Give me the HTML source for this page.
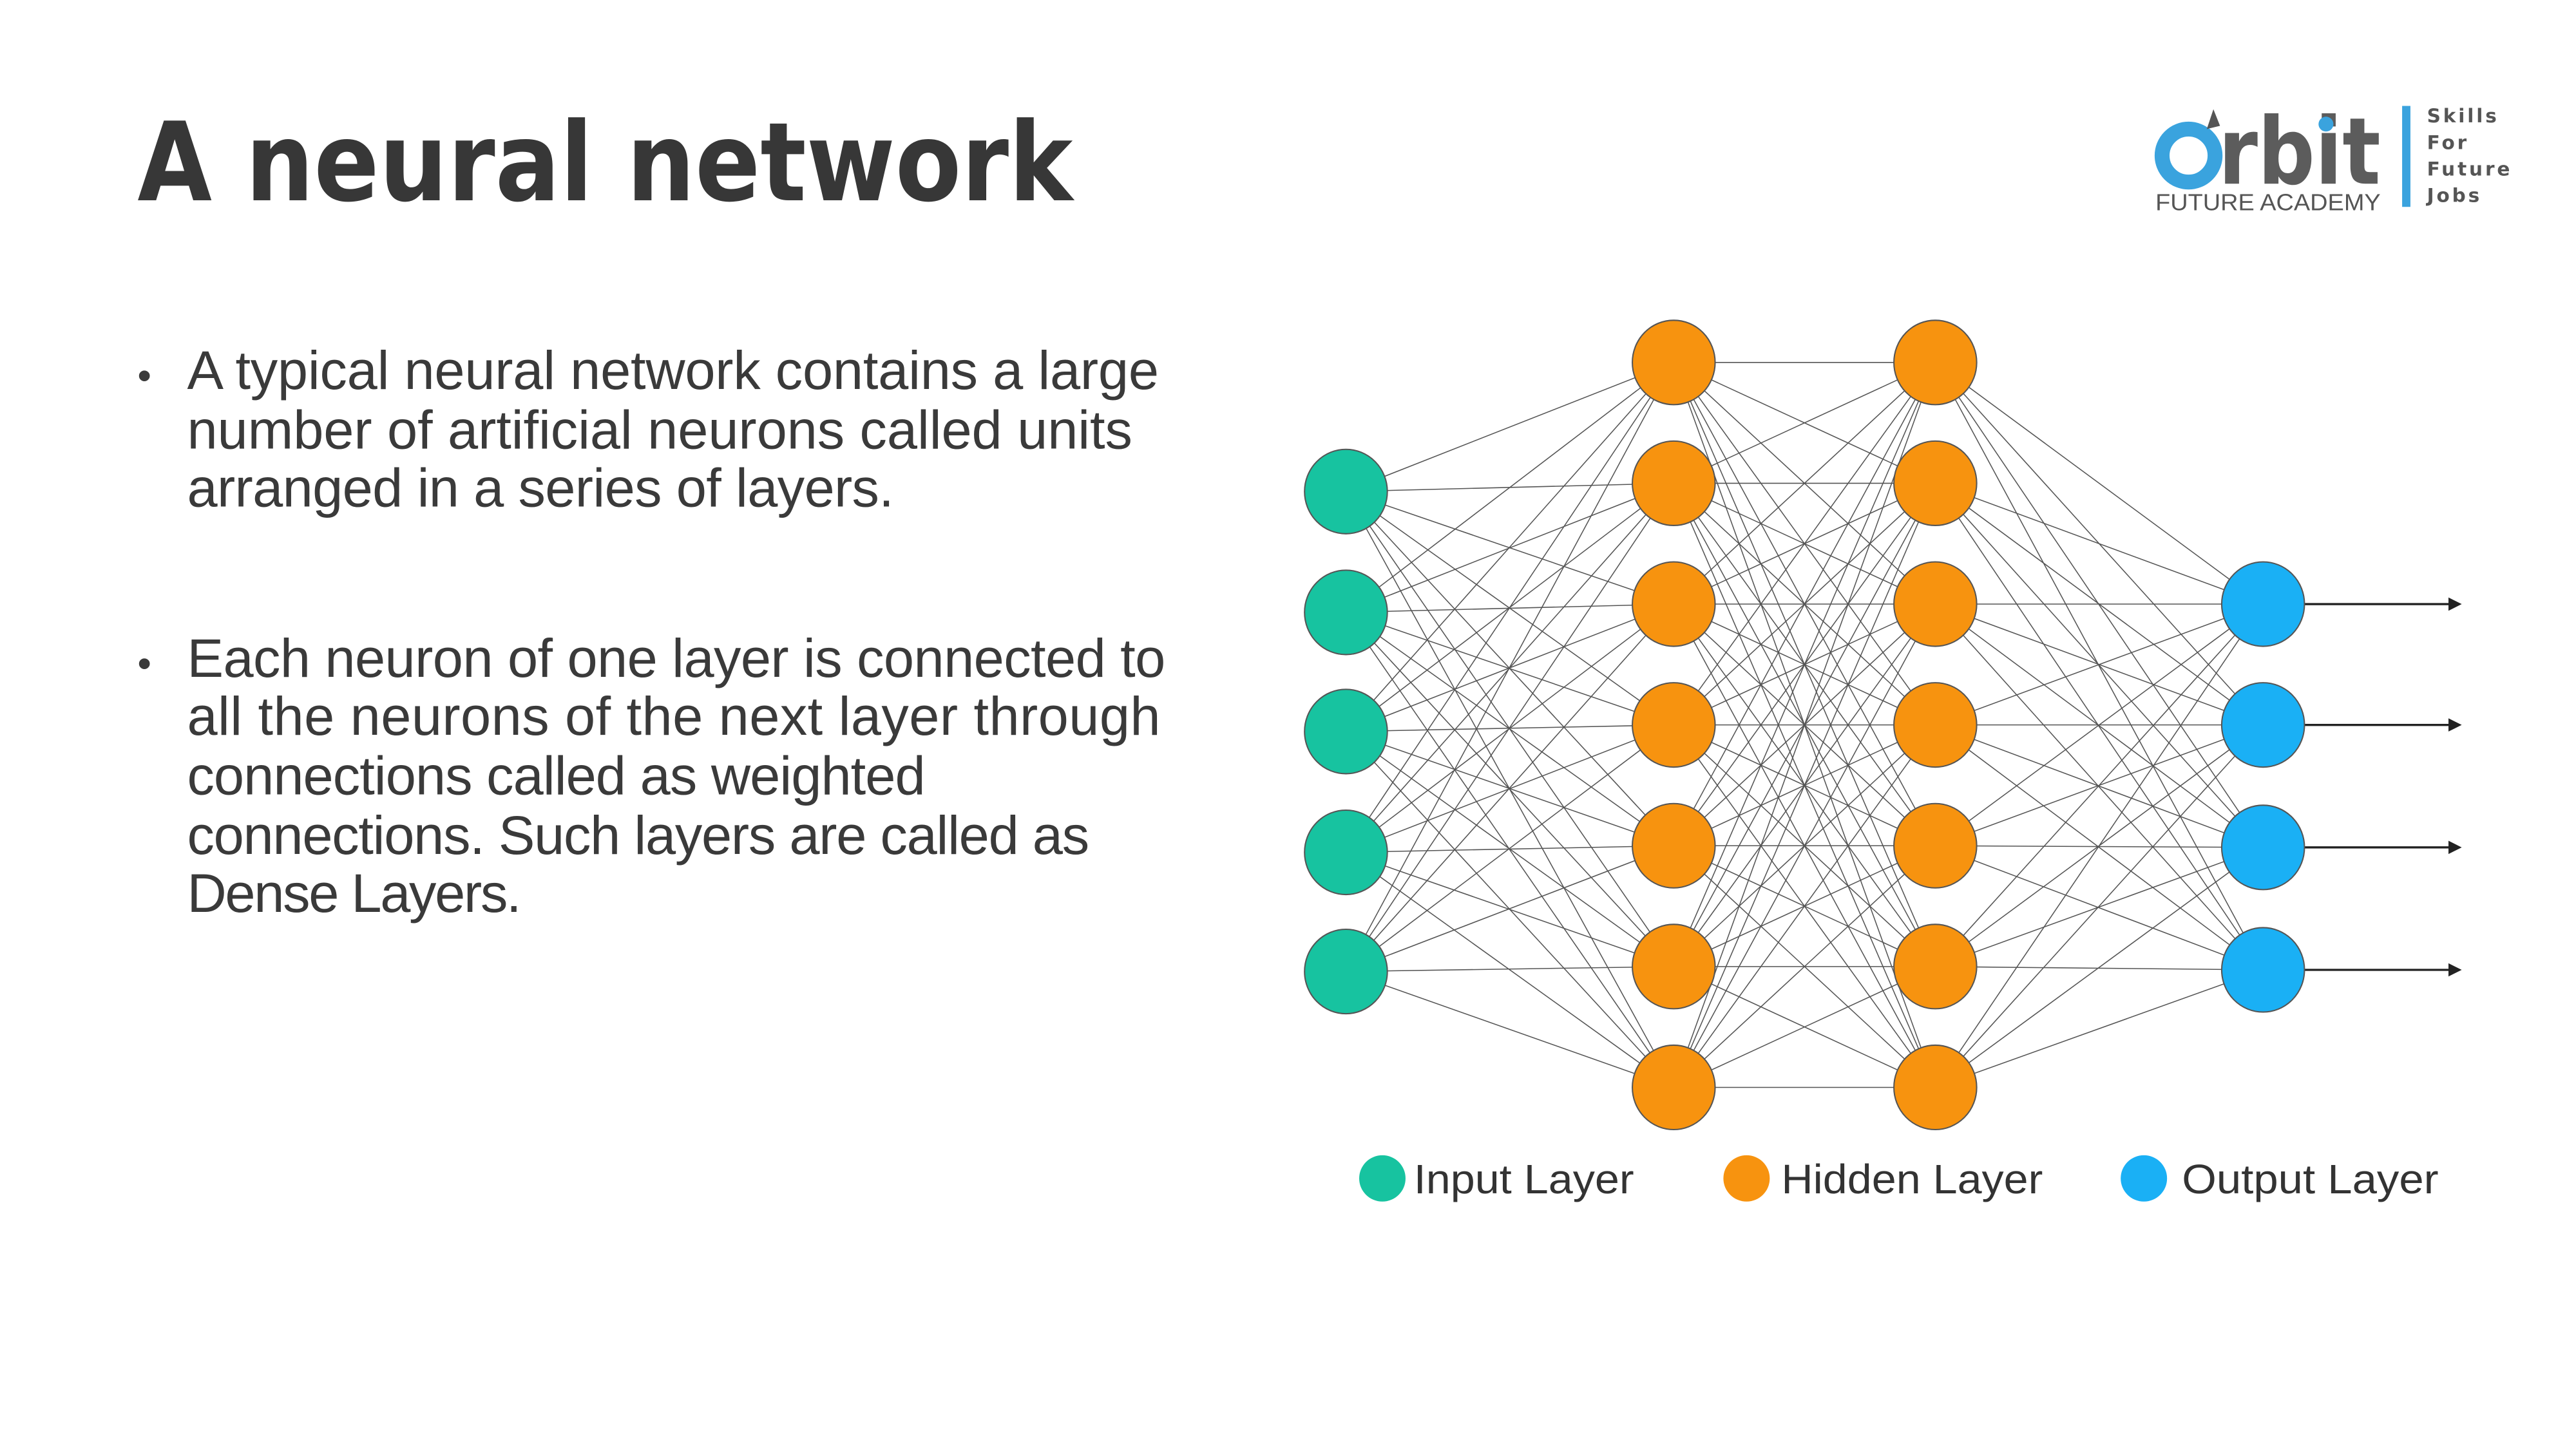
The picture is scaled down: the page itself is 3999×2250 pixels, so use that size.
<!DOCTYPE html>
<html><head><meta charset="utf-8">
<style>html,body{margin:0;padding:0;background:#fff;}svg{display:block}</style>
</head><body>
<svg id="s" xmlns="http://www.w3.org/2000/svg" width="3999" height="2250" viewBox="0 0 1556 875.5">
<rect width="1556" height="875.5" fill="#fff"/>
<text x="83" y="121" font-family="'DejaVu Sans','Liberation Sans',sans-serif" font-weight="bold" font-size="66" fill="#373737" textLength="565" lengthAdjust="spacingAndGlyphs">A neural network</text>
<g font-family="'Liberation Sans',sans-serif" font-size="33" fill="#3a3a3a" lengthAdjust="spacingAndGlyphs">
<text x="83" y="235" font-size="24">•</text>
<text x="113" y="235" textLength="587">A typical neural network contains a large</text>
<text x="113" y="271" textLength="571">number of artificial neurons called units</text>
<text x="113" y="306" textLength="427">arranged in a series of layers.</text>
<text x="83" y="409" font-size="24">•</text>
<text x="113" y="409" textLength="591">Each neuron of one layer is connected to</text>
<text x="113" y="444" textLength="588">all the neurons of the next layer through</text>
<text x="113" y="480" textLength="446">connections called as weighted</text>
<text x="113" y="516" textLength="545">connections. Such layers are called as</text>
<text x="113" y="551" textLength="202">Dense Layers.</text>
</g>
<g id="lines" stroke="#555" stroke-width="0.6"></g>
<g id="arrows" stroke="#222" stroke-width="1.3" fill="#222"></g>
<g id="nodes" stroke="#555" stroke-width="0.8"></g>
<g font-family="'Liberation Sans',sans-serif" font-size="25" fill="#333">
<circle cx="835" cy="712" r="14" fill="#17c3a0"/>
<text x="854" y="721" textLength="133" lengthAdjust="spacingAndGlyphs">Input Layer</text>
<circle cx="1055" cy="712" r="14" fill="#f7930f"/>
<text x="1076" y="721" textLength="158" lengthAdjust="spacingAndGlyphs">Hidden Layer</text>
<circle cx="1295" cy="712" r="14" fill="#1ab0f5"/>
<text x="1318" y="721" textLength="155" lengthAdjust="spacingAndGlyphs">Output Layer</text>
</g>
<!-- logo -->
<g>
<ellipse cx="1322" cy="94" rx="16" ry="16" fill="none" stroke="#3aa3de" stroke-width="9"/>
<path d="M1333 78 l4 -12 l4 10 z" fill="#555"/>
<text x="1340" y="111" font-family="'DejaVu Sans','Liberation Sans',sans-serif" font-weight="bold" font-size="56" fill="#5c5c5c" textLength="98" lengthAdjust="spacingAndGlyphs">rbit</text>
<circle cx="1405" cy="75" r="4.5" fill="#3aa3de"/>
<text x="1302" y="127" font-family="'Liberation Sans',sans-serif" font-size="14" fill="#555" textLength="136" lengthAdjust="spacingAndGlyphs">FUTURE ACADEMY</text>
<rect x="1451" y="64" width="5" height="61" fill="#3aa3de"/>
<g font-family="'DejaVu Sans',sans-serif" font-weight="bold" font-size="11.5" fill="#555" letter-spacing="1.5">
<text x="1466" y="74">Skills</text>
<text x="1466" y="90">For</text>
<text x="1466" y="106">Future</text>
<text x="1466" y="122">Jobs</text>
</g>
</g>
</svg>
<script>
var NS="http://www.w3.org/2000/svg";
var L=[{x:813,ys:[297,370,442,515,587],c:"#17c3a0"},
{x:1011,ys:[219,292,365,438,511,584,657],c:"#f7930f"},
{x:1169,ys:[219,292,365,438,511,584,657],c:"#f7930f"},
{x:1367,ys:[365,438,512,586],c:"#1ab0f5"}];
var lg=document.getElementById("lines"),ng=document.getElementById("nodes"),ag=document.getElementById("arrows");
function el(t,a,p){var e=document.createElementNS(NS,t);for(var k in a)e.setAttribute(k,a[k]);p.appendChild(e);}
for(var i=0;i<3;i++){L[i].ys.forEach(function(y1){L[i+1].ys.forEach(function(y2){el("line",{x1:L[i].x,y1:y1,x2:L[i+1].x,y2:y2},lg);});});}
L.forEach(function(l){l.ys.forEach(function(y){el("ellipse",{cx:l.x,cy:y,rx:25,ry:25.5,fill:l.c},ng);});});
L[3].ys.forEach(function(y){el("line",{x1:1392,y1:y,x2:1480,y2:y},ag);el("path",{d:"M1487 "+y+" l-8 -4 v8 z",stroke:"none"},ag);});
</script>
</body></html>
